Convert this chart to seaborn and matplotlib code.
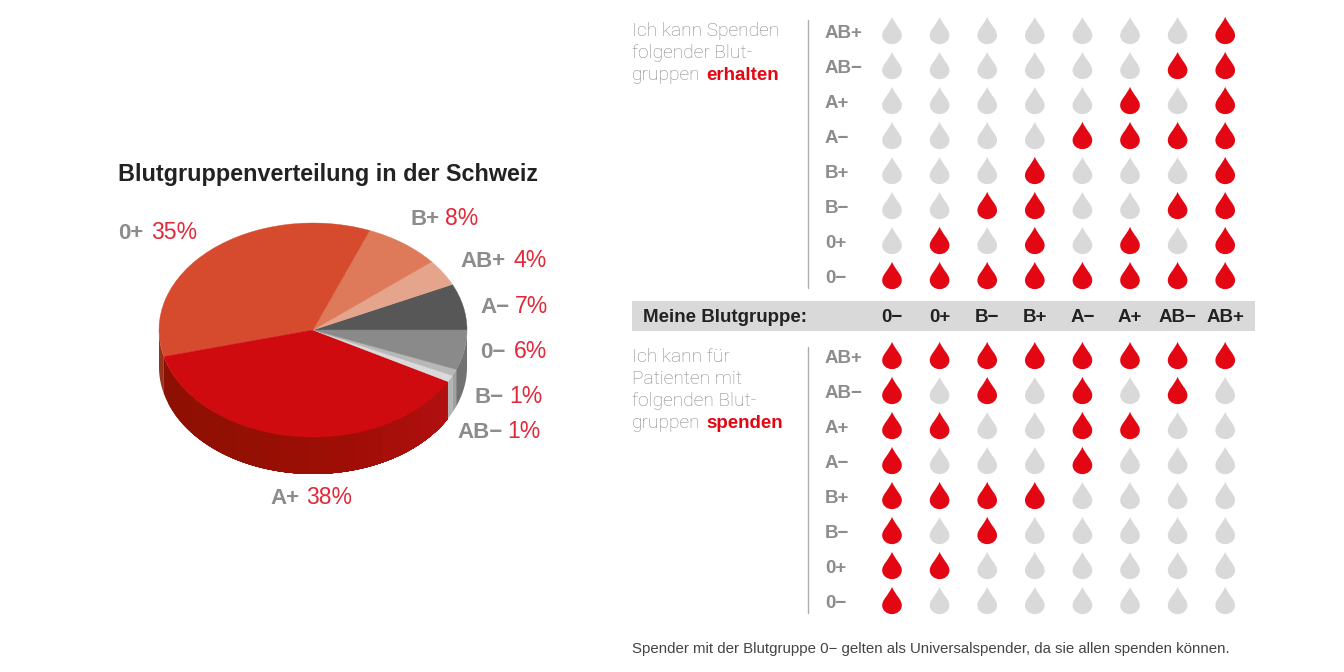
import numpy as np
import pandas as pd
import seaborn as sns
import matplotlib.pyplot as plt
from matplotlib.path import Path
from matplotlib.colors import LinearSegmentedColormap

# Data
pie_groups = ['A−', 'AB+', 'B+', '0+', 'A+', 'AB−', 'B−', '0−']
pie_values = [7, 4, 8, 35, 38, 1, 1, 6]
pie_colors = ['#575757', '#E5A58C', '#DE7A5A', '#D64B2E', '#D00B10', '#DADADA', '#B8B8B8', '#8A8A8A']
side_colors = ['#444444', '#B07050', '#A85030', '#96331A', None, '#B4B4B4', '#A0A0A0', '#727272']

columns = ['0−', '0+', 'B−', 'B+', 'A−', 'A+', 'AB−', 'AB+']
rows = ['AB+', 'AB−', 'A+', 'A−', 'B+', 'B−', '0+', '0−']
receive = [
    [0, 0, 0, 0, 0, 0, 0, 1],
    [0, 0, 0, 0, 0, 0, 1, 1],
    [0, 0, 0, 0, 0, 1, 0, 1],
    [0, 0, 0, 0, 1, 1, 1, 1],
    [0, 0, 0, 1, 0, 0, 0, 1],
    [0, 0, 1, 1, 0, 0, 1, 1],
    [0, 1, 0, 1, 0, 1, 0, 1],
    [1, 1, 1, 1, 1, 1, 1, 1],
]
donate = [
    [1, 1, 1, 1, 1, 1, 1, 1],
    [1, 0, 1, 0, 1, 0, 1, 0],
    [1, 1, 0, 0, 1, 1, 0, 0],
    [1, 0, 0, 0, 1, 0, 0, 0],
    [1, 1, 1, 1, 0, 0, 0, 0],
    [1, 0, 1, 0, 0, 0, 0, 0],
    [1, 1, 0, 0, 0, 0, 0, 0],
    [1, 0, 0, 0, 0, 0, 0, 0],
]

RED = '#E30613'
LABEL_RED = '#E2293A'
GRAY = '#8C8C8C'
LIGHT = '#858585'
DARK = '#222222'
DROP_GRAY = '#D9D9D9'

sns.set_theme(style='white')
plt.rcParams['font.family'] = ['Liberation Sans', 'DejaVu Sans']
thin = {'family': ['Roboto', 'DejaVu Sans'], 'fontweight': 'light'}

fig = plt.figure(figsize=(13.44, 6.72), dpi=100)
ax = fig.add_axes([0, 0, 1, 1])

# matrix of drops
col_x = [892 + i * 47.6 for i in range(8)]
top_y = [30.5 + i * 35 for i in range(8)]
bottom_y = [355.5 + i * 35 for i in range(8)]

records = []
for ys, matrix in [(top_y, receive), (bottom_y, donate)]:
    for r, y in enumerate(ys):
        for c, x in enumerate(col_x):
            records.append({'x': x, 'y': y, 'ok': matrix[r][c]})
drops = pd.DataFrame(records)

drop = Path(
    [(0, 1), (0.10, 0.75), (0.25, 0.55), (0.42, 0.30),
     (0.58, 0.08), (0.72, -0.10), (0.72, -0.36),
     (0.72, -0.72), (0.40, -1), (0, -1),
     (-0.40, -1), (-0.72, -0.72), (-0.72, -0.36),
     (-0.72, -0.10), (-0.58, 0.08), (-0.42, 0.30),
     (-0.25, 0.55), (-0.10, 0.75), (0, 1)],
    [Path.MOVETO] + [Path.CURVE4] * 18,
)
sns.scatterplot(data=drops, x='x', y='y', hue='ok', palette={0: DROP_GRAY, 1: RED},
                marker=drop, s=385, linewidth=0, edgecolor='none', legend=False, ax=ax)
ax.set_xlim(0, 1344)
ax.set_ylim(672, 0)
ax.axis('off')

# band and rules
ax.axhspan(301, 331, xmin=632 / 1344, xmax=1255 / 1344, color='#D9D9D9', lw=0, zorder=0)
ax.plot([808, 808], [20, 288], color='#ADADAD', lw=1)
ax.plot([808, 808], [347, 613], color='#ADADAD', lw=1)

ax.text(643, 322, 'Meine Blutgruppe:', fontsize=13.5, fontweight='bold', color=DARK)
for x, name in zip(col_x, columns):
    ax.text(x, 322, name, fontsize=13.5, fontweight='bold', color=DARK, ha='center')
for ys in (top_y, bottom_y):
    for y, name in zip(ys, rows):
        ax.text(825, y + 7.5, name, fontsize=13.5, fontweight='bold', color=GRAY)

# side texts
ax.text(632, 36, 'Ich kann Spenden', fontsize=13.8, color=LIGHT, **thin)
ax.text(632, 58, 'folgender Blut-', fontsize=13.8, color=LIGHT, **thin)
ax.text(632, 80, 'gruppen', fontsize=13.8, color=LIGHT, **thin)
ax.text(706, 80, 'erhalten', fontsize=13.5, fontweight='bold', color=RED)
ax.text(632, 362, 'Ich kann für', fontsize=13.8, color=LIGHT, **thin)
ax.text(632, 384, 'Patienten mit', fontsize=13.8, color=LIGHT, **thin)
ax.text(632, 406, 'folgenden Blut-', fontsize=13.8, color=LIGHT, **thin)
ax.text(632, 428, 'gruppen', fontsize=13.8, color=LIGHT, **thin)
ax.text(706, 428, 'spenden', fontsize=13.5, fontweight='bold', color=RED)
ax.text(632, 653, 'Spender mit der Blutgruppe 0− gelten als Universalspender, da sie allen spenden können.',
        fontsize=10.8, color='#444444')

# pie
ax.text(118, 181, 'Blutgruppenverteilung in der Schweiz', fontsize=16.8, fontweight='bold', color=DARK)
pie_labels = [
    ('A−', 480, 515, 305, 7), ('AB+', 460, 513, 259, 4), ('B+', 410, 445, 217, 8),
    ('0+', 118, 151, 231, 35), ('A+', 270, 306, 496, 38), ('AB−', 457, 507, 430, 1),
    ('B−', 475, 509, 395, 1), ('0−', 480, 514, 350, 6),
]
for name, x1, x2, y, val in pie_labels:
    ax.text(x1, y + 8, name, fontsize=16, fontweight='bold', color=GRAY)
    ax.text(x2, y + 8, f'{val}%', fontsize=16.6, color=LABEL_RED)

ax_pie = fig.add_axes([159 / 1344, (672 - 437) / 672, 308 / 1344, 214 / 672])
ax_pie.patch.set_alpha(0)

depth = 37 / 107
a_cmap = LinearSegmentedColormap.from_list('side', ['#8C1003', '#931003', '#A00E06', '#B01010'])
edges = np.concatenate([[0], np.cumsum(pie_values)]) * 3.6


def side_piece(a0, a1, color):
    t = np.radians(np.linspace(a0, a1, 60))
    xs = np.concatenate([np.cos(t), np.cos(t)[::-1]])
    ys = np.concatenate([np.sin(t), np.sin(t)[::-1] - depth])
    ax_pie.fill(xs, ys, color=color, lw=0, clip_on=False)


for i in range(len(pie_values)):
    a0, a1 = max(edges[i], 180), edges[i + 1]
    if a1 <= 180:
        continue
    if side_colors[i] is None:
        # shaded facets, each one painted over the rest so no seams show
        steps = np.linspace(a0, a1, 25)
        for j in range(24):
            side_piece(steps[j], a1, a_cmap(j / 23))
    else:
        side_piece(a0, a1, side_colors[i])

wedges, _ = ax_pie.pie(pie_values, colors=pie_colors, startangle=0, counterclock=True, radius=1,
                       wedgeprops={'linewidth': 0.3, 'clip_on': False})
for w, c in zip(wedges, pie_colors):
    w.set_edgecolor(c)
ax_pie.set_aspect('auto')
ax_pie.set_xlim(-1, 1)
ax_pie.set_ylim(-1, 1)
ax_pie.axis('off')

plt.savefig('out.png', dpi=100)
